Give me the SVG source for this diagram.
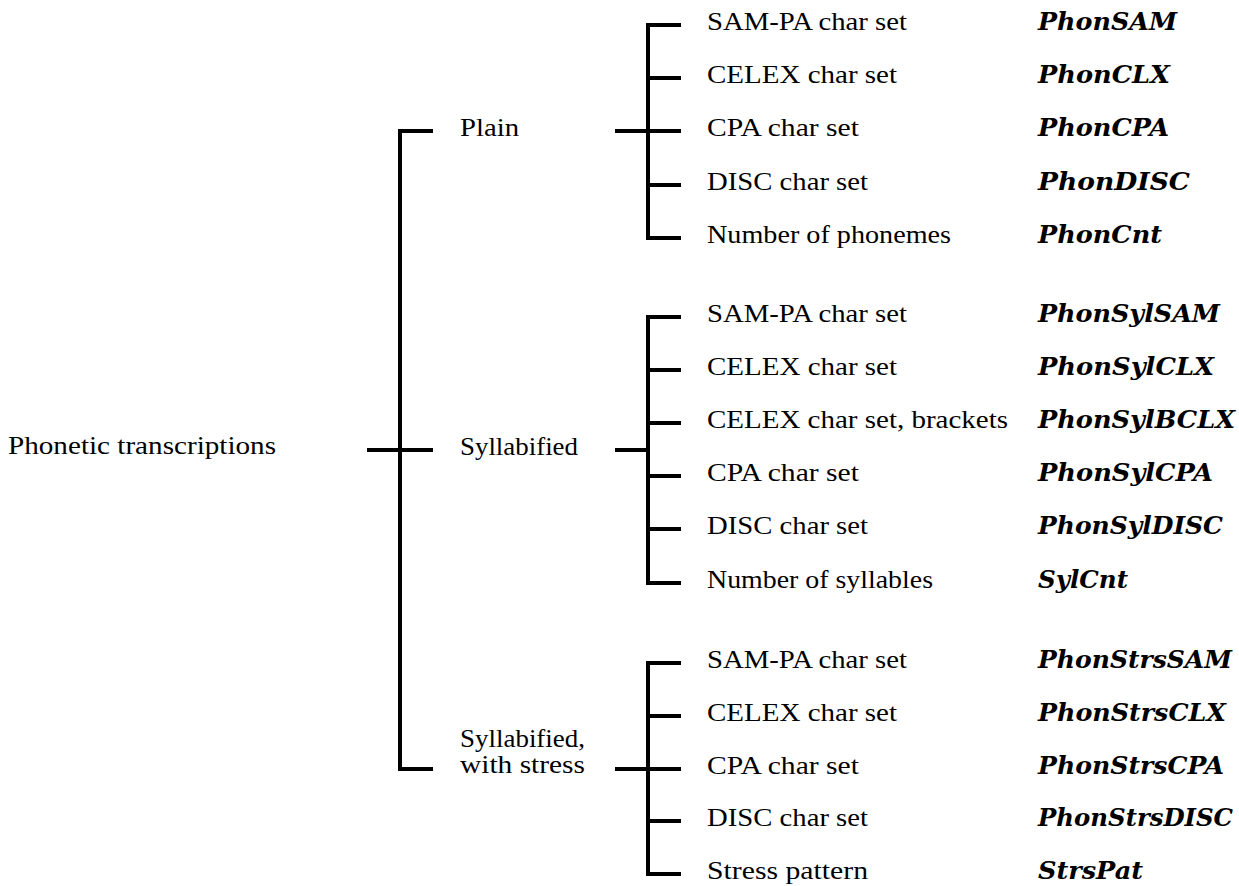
<svg xmlns="http://www.w3.org/2000/svg" width="1239" height="886" viewBox="0 0 1239 886">
<style>
.ln{fill:none;stroke:#000;stroke-width:4;stroke-linejoin:miter;stroke-linecap:butt}
.t{font-family:"Liberation Serif","DejaVu Serif",serif;font-size:26px;fill:#000}
.c{font-family:"DejaVu Serif","Liberation Serif",serif;font-size:25px;font-weight:bold;font-style:italic;fill:#000}
</style>
<rect width="1239" height="886" fill="#fff"/>
<g id="connectors">
<path class="ln" d="M433,131 H400 V769 H433 M367,450 H433"/>
<path class="ln" d="M681,25 H648 V238 H681 M648,78 H681 M615,131 H681 M648,185 H681"/>
<path class="ln" d="M681,317 H648 V583 H681 M648,370 H681 M648,423 H681 M648,476 H681 M648,529 H681 M615,450 H648"/>
<path class="ln" d="M681,663 H648 V874 H681 M648,716 H681 M615,769 H681 M648,821 H681"/>
</g>
<g id="root"><text class="t" x="8" y="454" textLength="268" lengthAdjust="spacingAndGlyphs">Phonetic transcriptions</text></g>
<g id="plain"><text class="t" x="460" y="136" textLength="59" lengthAdjust="spacingAndGlyphs">Plain</text></g>
<g id="syllabified"><text class="t" x="460" y="455" textLength="118" lengthAdjust="spacingAndGlyphs">Syllabified</text></g>
<g id="stress"><text class="t" x="460" y="747" textLength="125" lengthAdjust="spacingAndGlyphs">Syllabified,</text><text class="t" x="460" y="773" textLength="125" lengthAdjust="spacingAndGlyphs">with stress</text></g>
<g id="plain-items">
<g id="p1"><text class="t" x="707" y="30" textLength="200" lengthAdjust="spacingAndGlyphs">SAM-PA char set</text><text class="c" x="1038" y="30" textLength="139" lengthAdjust="spacingAndGlyphs">PhonSAM</text></g>
<g id="p2"><text class="t" x="707" y="83" textLength="190" lengthAdjust="spacingAndGlyphs">CELEX char set</text><text class="c" x="1038" y="83" textLength="132" lengthAdjust="spacingAndGlyphs">PhonCLX</text></g>
<g id="p3"><text class="t" x="707" y="136" textLength="152" lengthAdjust="spacingAndGlyphs">CPA char set</text><text class="c" x="1038" y="136" textLength="131" lengthAdjust="spacingAndGlyphs">PhonCPA</text></g>
<g id="p4"><text class="t" x="707" y="190" textLength="161" lengthAdjust="spacingAndGlyphs">DISC char set</text><text class="c" x="1038" y="190" textLength="152" lengthAdjust="spacingAndGlyphs">PhonDISC</text></g>
<g id="p5"><text class="t" x="707" y="243" textLength="244" lengthAdjust="spacingAndGlyphs">Number of phonemes</text><text class="c" x="1038" y="243" textLength="124" lengthAdjust="spacingAndGlyphs">PhonCnt</text></g>
</g>
<g id="syl-items">
<g id="s1"><text class="t" x="707" y="322" textLength="200" lengthAdjust="spacingAndGlyphs">SAM-PA char set</text><text class="c" x="1038" y="322" textLength="182" lengthAdjust="spacingAndGlyphs">PhonSylSAM</text></g>
<g id="s2"><text class="t" x="707" y="375" textLength="190" lengthAdjust="spacingAndGlyphs">CELEX char set</text><text class="c" x="1038" y="375" textLength="176" lengthAdjust="spacingAndGlyphs">PhonSylCLX</text></g>
<g id="s3"><text class="t" x="707" y="428" textLength="301" lengthAdjust="spacingAndGlyphs">CELEX char set, brackets</text><text class="c" x="1038" y="428" textLength="197" lengthAdjust="spacingAndGlyphs">PhonSylBCLX</text></g>
<g id="s4"><text class="t" x="707" y="481" textLength="152" lengthAdjust="spacingAndGlyphs">CPA char set</text><text class="c" x="1038" y="481" textLength="175" lengthAdjust="spacingAndGlyphs">PhonSylCPA</text></g>
<g id="s5"><text class="t" x="707" y="534" textLength="161" lengthAdjust="spacingAndGlyphs">DISC char set</text><text class="c" x="1038" y="534" textLength="185" lengthAdjust="spacingAndGlyphs">PhonSylDISC</text></g>
<g id="s6"><text class="t" x="707" y="588" textLength="226" lengthAdjust="spacingAndGlyphs">Number of syllables</text><text class="c" x="1038" y="588" textLength="90" lengthAdjust="spacingAndGlyphs">SylCnt</text></g>
</g>
<g id="stress-items">
<g id="t1"><text class="t" x="707" y="668" textLength="200" lengthAdjust="spacingAndGlyphs">SAM-PA char set</text><text class="c" x="1038" y="668" textLength="194" lengthAdjust="spacingAndGlyphs">PhonStrsSAM</text></g>
<g id="t2"><text class="t" x="707" y="721" textLength="190" lengthAdjust="spacingAndGlyphs">CELEX char set</text><text class="c" x="1038" y="721" textLength="188" lengthAdjust="spacingAndGlyphs">PhonStrsCLX</text></g>
<g id="t3"><text class="t" x="707" y="774" textLength="152" lengthAdjust="spacingAndGlyphs">CPA char set</text><text class="c" x="1038" y="774" textLength="186" lengthAdjust="spacingAndGlyphs">PhonStrsCPA</text></g>
<g id="t4"><text class="t" x="707" y="826" textLength="161" lengthAdjust="spacingAndGlyphs">DISC char set</text><text class="c" x="1038" y="826" textLength="195" lengthAdjust="spacingAndGlyphs">PhonStrsDISC</text></g>
<g id="t5"><text class="t" x="707" y="879" textLength="161" lengthAdjust="spacingAndGlyphs">Stress pattern</text><text class="c" x="1038" y="879" textLength="105" lengthAdjust="spacingAndGlyphs">StrsPat</text></g>
</g>
</svg>
